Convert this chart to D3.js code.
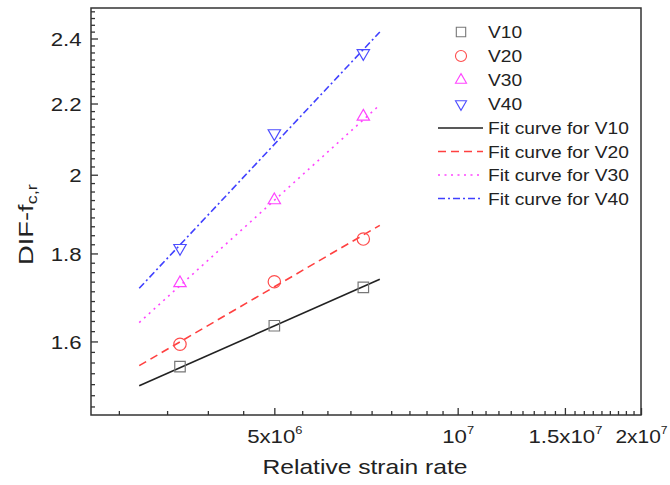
<!DOCTYPE html>
<html>
<head>
<meta charset="utf-8">
<script src="https://cdn.jsdelivr.net/npm/d3@7"></script>
<style>
  body { margin: 0; background: #fff; }
  text { font-family: "Liberation Sans", Arial, sans-serif; fill: #222; }
</style>
</head>
<body>
<script>
var width = 670,
    height = 485;

/* ============================ DATA ============================ */
var rates = [3.5e6, 5e6, 7e6];
var v10 = [1.547, 1.634, 1.720];
var v20 = [1.594, 1.733, 1.835];
var v30 = [1.730, 1.933, 2.162];
var v40 = [1.813, 2.114, 2.353];

// fit curves, start and end point
var fitRates = [3e6, 7.45e6];
var fit10 = [1.508, 1.739];
var fit20 = [1.549, 1.869];
var fit30 = [1.641, 2.196];
var fit40 = [1.718, 2.421];

var xMajor = [5e6, 1e7, 1.5e7, 2e7];
var xLabels = [["5x10", "6"], ["10", "7"], ["1.5x10", "7"], ["2x10", "7"]];
var yMajor = [1.6, 1.8, 2.0, 2.2, 2.4];

var seriesNames = ["V10", "V20", "V30", "V40"];

/* ============================ SETUP ============================ */
var margin = {left: 91, top: 8, right: 29, bottom: 70};
var w = width - margin.left - margin.right,
    h = height - margin.top - margin.bottom;

var svg = d3.select('body').append('svg')
    .attr('width', width)
    .attr('height', height);

var x = d3.scaleLog().domain([2.5e6, 2e7]).range([0, w]);
var y = d3.scaleLog().domain([1.45, 2.5]).range([h, 0]);

var g = svg.append('g')
    .attr('transform', 'translate(' + margin.left + ',' + margin.top + ')');

var sx = 1.17; // the reference's text is a bit wide

// minor ticks, origin style: 8 between majors
var xMinor = d3.range(1, 36).map(k => k * 5e6 / 9)
    .filter(v => v > 2.5e6 && v < 2e7 && Math.abs(v / 5e6 - Math.round(v / 5e6)) > 1e-6);
var yMinor = d3.range(60, 115).map(k => k * 0.2 / 9)
    .filter(v => v > 1.45 && v < 2.5 && Math.abs(v / 0.2 - Math.round(v / 0.2)) > 1e-6);

/* ============================ AXES ============================ */
var xAxisMinor = g.append('g')
    .attr('transform', 'translate(0,' + h + ')')
    .call(d3.axisBottom(x).tickValues(xMinor).tickSize(-4).tickFormat(''));
var xAxis = g.append('g')
    .attr('transform', 'translate(0,' + h + ')')
    .call(d3.axisBottom(x).tickValues(xMajor).tickSize(-7).tickPadding(14).tickFormat(''));

var yAxisMinor = g.append('g')
    .call(d3.axisLeft(y).tickValues(yMinor).tickSize(-4).tickFormat(''));
var yAxis = g.append('g')
    .call(d3.axisLeft(y).tickValues(yMajor).tickSize(-7).tickPadding(8).tickFormat(d3.format('')));

[xAxisMinor, xAxis, yAxisMinor, yAxis].forEach(a => {
  a.select('.domain').remove();
  a.selectAll('line').attr('stroke', '#333').attr('stroke-width', 1.3);
});

yAxis.selectAll('text')
    .attr('font-size', 19)
    .attr('fill', '#222')
    .attr('x', -8)
    .attr('dy', '0.35em')
    .attr('transform', 'scale(' + sx + ',1)');

// x labels with superscript exponent
xAxis.selectAll('.tick').each(function(d, i) {
  var t = d3.select(this).select('text');
  t.text(null)
    .attr('y', 0)
    .attr('dy', 28)
    .attr('font-size', 19)
    .attr('fill', '#222')
    .attr('transform', 'scale(' + (i == 3 ? 1.1 : sx) + ',1)');
  t.append('tspan').text(xLabels[i][0]);
  t.append('tspan').text(xLabels[i][1]).attr('font-size', 11).attr('dy', -9);
});

// frame
g.append('rect')
    .attr('width', w)
    .attr('height', h)
    .attr('fill', 'none')
    .attr('stroke', '#333')
    .attr('stroke-width', 1.5);

// axis titles
svg.append('text')
    .attr('transform', 'translate(365,474) scale(1.2,1)')
    .attr('text-anchor', 'middle')
    .attr('font-size', 20.5)
    .text('Relative strain rate');

var yt = svg.append('text')
    .attr('transform', 'translate(33,265) rotate(-90) scale(1.3,1)')
    .attr('font-size', 21);
yt.append('tspan').text('DIF-f');
yt.append('tspan').text('c,r').attr('font-size', 14).attr('dy', 4);

/* ============================ SERIES ============================ */
var series = [
  {name: 'V10', vals: v10, fit: fit10, color: '#777', line: '#222', symbol: d3.symbolSquare, size: 110, rot: 0, dash: null},
  {name: 'V20', vals: v20, fit: fit20, color: '#ff4d4d', line: '#ff4040', symbol: d3.symbolCircle, size: 120, rot: 0, dash: '8,5'},
  {name: 'V30', vals: v30, fit: fit30, color: '#ff44ff', line: '#ff44ff', symbol: d3.symbolTriangle, size: 66, rot: 0, dash: '2,4.5'},
  {name: 'V40', vals: v40, fit: fit40, color: '#4d4dff', line: '#4040ff', symbol: d3.symbolTriangle, size: 66, rot: 180, dash: '7,3,2,3'}
];

var line = d3.line().x(d => x(d[0])).y(d => y(d[1]));

series.forEach(s => {
  g.append('path')
      .datum(fitRates.map((r, i) => [r, s.fit[i]]))
      .attr('d', line)
      .attr('fill', 'none')
      .attr('stroke', s.line)
      .attr('stroke-width', 1.6)
      .attr('stroke-dasharray', s.dash);
});

series.forEach(s => {
  g.selectAll(null)
      .data(rates.map((r, i) => [r, s.vals[i]]))
    .enter().append('path')
      .attr('d', d3.symbol().type(s.symbol).size(s.size))
      .attr('transform', d => 'translate(' + x(d[0]) + ',' + y(d[1]) + ') rotate(' + s.rot + ')')
      .attr('fill', 'none')
      .attr('stroke', s.color)
      .attr('stroke-width', 1.2);
});

/* ============================ LEGEND ============================ */
var legend = svg.append('g');
series.forEach((s, i) => {
  var ly = 32 + i * 24;
  legend.append('path')
      .attr('d', d3.symbol().type(s.symbol).size(s.size * 0.8))
      .attr('transform', 'translate(461,' + ly + ') rotate(' + s.rot + ')')
      .attr('fill', 'none')
      .attr('stroke', s.color)
      .attr('stroke-width', 1.1);
  legend.append('text')
      .attr('transform', 'translate(488,' + (ly + 6) + ') scale(1.13,1)')
      .attr('font-size', 17)
      .text(s.name);
});
series.forEach((s, i) => {
  var ly = 128 + i * 23.5;
  legend.append('line')
      .attr('x1', 438).attr('x2', 483)
      .attr('y1', ly).attr('y2', ly)
      .attr('stroke', s.line)
      .attr('stroke-width', 1.5)
      .attr('stroke-dasharray', s.dash);
  legend.append('text')
      .attr('transform', 'translate(488,' + (ly + 6) + ') scale(1.13,1)')
      .attr('font-size', 17)
      .text('Fit curve for ' + s.name);
});
</script>
</body>
</html>
